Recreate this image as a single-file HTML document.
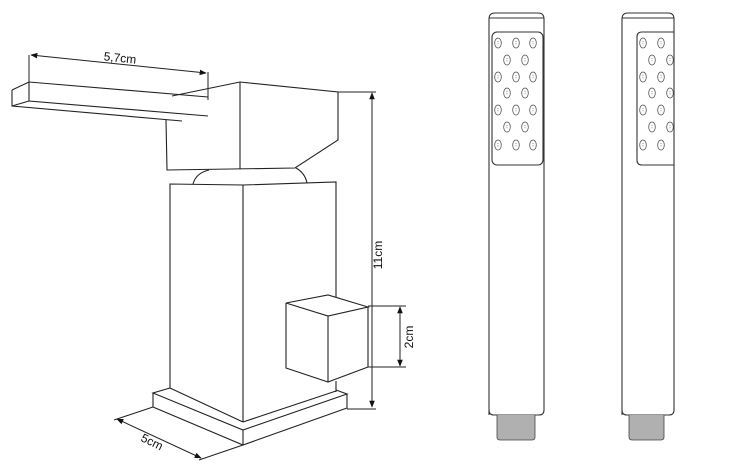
<!DOCTYPE html>
<html><head><meta charset="utf-8"><style>body{margin:0;background:#fff}svg{display:block}</style></head>
<body>
<svg width="750" height="470" viewBox="0 0 750 470" xmlns="http://www.w3.org/2000/svg" font-family="Liberation Sans, sans-serif">
<defs>
<marker id="a" viewBox="0 0 10 10" refX="9" refY="5" markerWidth="7" markerHeight="7" orient="auto-start-reverse"><path d="M0,1 L10,5 L0,9 z" fill="#111"/></marker>
<g id="dot"><ellipse cx="0" cy="0" rx="3.3" ry="5" fill="none" stroke="#555" stroke-width="0.8"/><line x1="0" y1="-2" x2="0" y2="2" stroke="#777" stroke-width="0.8" stroke-dasharray="1 1.2"/></g>
</defs>
<g fill="none" stroke="#222" stroke-width="1.1">
<path d="M12,90 L29,82 L208,97"/>
<path d="M12,90 L12,106 L182,121"/>
<path d="M29,82 L29,101 L208,116"/>
<path d="M12,106 L29,101"/>
<path d="M172,96 L240,82 L338,92 L338,140 L295,168 L167,170 L166,120"/>
<path d="M240,82 L240,169"/>
<path d="M193,184 Q196,173 209,170"/>
<path d="M307,183 Q305,173 296,168"/>
<path d="M170,388 L170,184 L243,185 L336,182 L336,297"/>
<path d="M243,185 L243,422"/>
<path d="M336,381 L336,392"/>
<path d="M170,388 L153,393 L243,430 L347,394 L336,390"/>
<path d="M243,422 L336,391"/>
<path d="M170,388 L243,422"/>
<path d="M153,393 L153,407 L243,445 L347,408 L347,394"/>
<path d="M243,430 L243,445"/>
<path d="M286,303 L328,295 L368,307 L328,316 Z"/>
<path d="M286,303 L286,368 L328,382 L368,367 L368,307"/>
<path d="M328,316 L328,382"/>
</g>
<g stroke="#222" stroke-width="1" fill="none">
<path d="M29,55 L29,101"/><path d="M208,72 L208,100"/>
<path d="M31,55 L206,73" marker-start="url(#a)" marker-end="url(#a)"/>
<path d="M338,92 L376,92"/><path d="M347,409 L376,409"/>
<path d="M372,93 L372,407" marker-start="url(#a)" marker-end="url(#a)"/>
<path d="M368,306 L406,306"/><path d="M368,367 L406,367"/>
<path d="M400,307 L400,366" marker-start="url(#a)" marker-end="url(#a)"/>
<path d="M153,407 L114,420"/><path d="M243,445 L199,460"/>
<path d="M117,419 L201,458" marker-start="url(#a)" marker-end="url(#a)"/>
</g>
<g font-size="12" fill="#111">
<text x="120" y="62" transform="rotate(6 120 58)" text-anchor="middle">5,7cm</text>
<text x="382" y="255" transform="rotate(-90 382 255)" text-anchor="middle">11cm</text>
<text x="413" y="337" transform="rotate(-90 413 337)" text-anchor="middle">2cm</text>
<text x="152" y="446" transform="rotate(26 152 442)" text-anchor="middle">5cm</text>
</g>
<g fill="none" stroke="#333" stroke-width="1.1">
<path d="M489,415 L489,19 Q489,13 495,13 L538,13 Q544,13 544,19 L544,410 Q544,415 539,415 L494,415 Q489,415 489,410"/>
<line x1="489" y1="18" x2="544" y2="18"/>
<rect x="492" y="32" width="51" height="133" rx="5"/>
<path d="M622,415 L622,19 Q622,13 628,13 L668,13 Q674,13 674,19 L674,410 Q674,415 669,415 L627,415 Q622,415 622,410"/>
<line x1="622" y1="18" x2="674" y2="18"/>
<path d="M674,32 L642,32 Q637,32 637,37 L637,160 Q637,165 642,165 L674,165"/>
</g>
<g fill="#b0b0b0" stroke="#444" stroke-width="0.8">
<path d="M497,415 L497,437 Q497,440 500,440 L532,440 Q535,440 535,437 L535,415"/>
<path d="M629,415 L629,437 Q629,440 632,440 L661,440 Q664,440 664,437 L664,415"/>
</g>
<g>
<use href="#dot" x="498" y="43"/><use href="#dot" x="516" y="43"/><use href="#dot" x="533" y="43"/>
<use href="#dot" x="507" y="60"/><use href="#dot" x="525" y="60"/>
<use href="#dot" x="498" y="77"/><use href="#dot" x="516" y="77"/><use href="#dot" x="533" y="77"/>
<use href="#dot" x="507" y="93"/><use href="#dot" x="525" y="93"/>
<use href="#dot" x="498" y="110"/><use href="#dot" x="516" y="110"/><use href="#dot" x="533" y="110"/>
<use href="#dot" x="507" y="127"/><use href="#dot" x="525" y="127"/>
<use href="#dot" x="498" y="145"/><use href="#dot" x="516" y="145"/><use href="#dot" x="533" y="145"/>
<use href="#dot" x="643" y="43"/><use href="#dot" x="661" y="43"/>
<use href="#dot" x="652" y="60"/><use href="#dot" x="670" y="60"/>
<use href="#dot" x="643" y="77"/><use href="#dot" x="661" y="77"/>
<use href="#dot" x="652" y="93"/><use href="#dot" x="670" y="93"/>
<use href="#dot" x="643" y="110"/><use href="#dot" x="661" y="110"/>
<use href="#dot" x="652" y="127"/><use href="#dot" x="670" y="127"/>
<use href="#dot" x="643" y="145"/><use href="#dot" x="661" y="145"/>
</g>
</svg>
</body></html>
